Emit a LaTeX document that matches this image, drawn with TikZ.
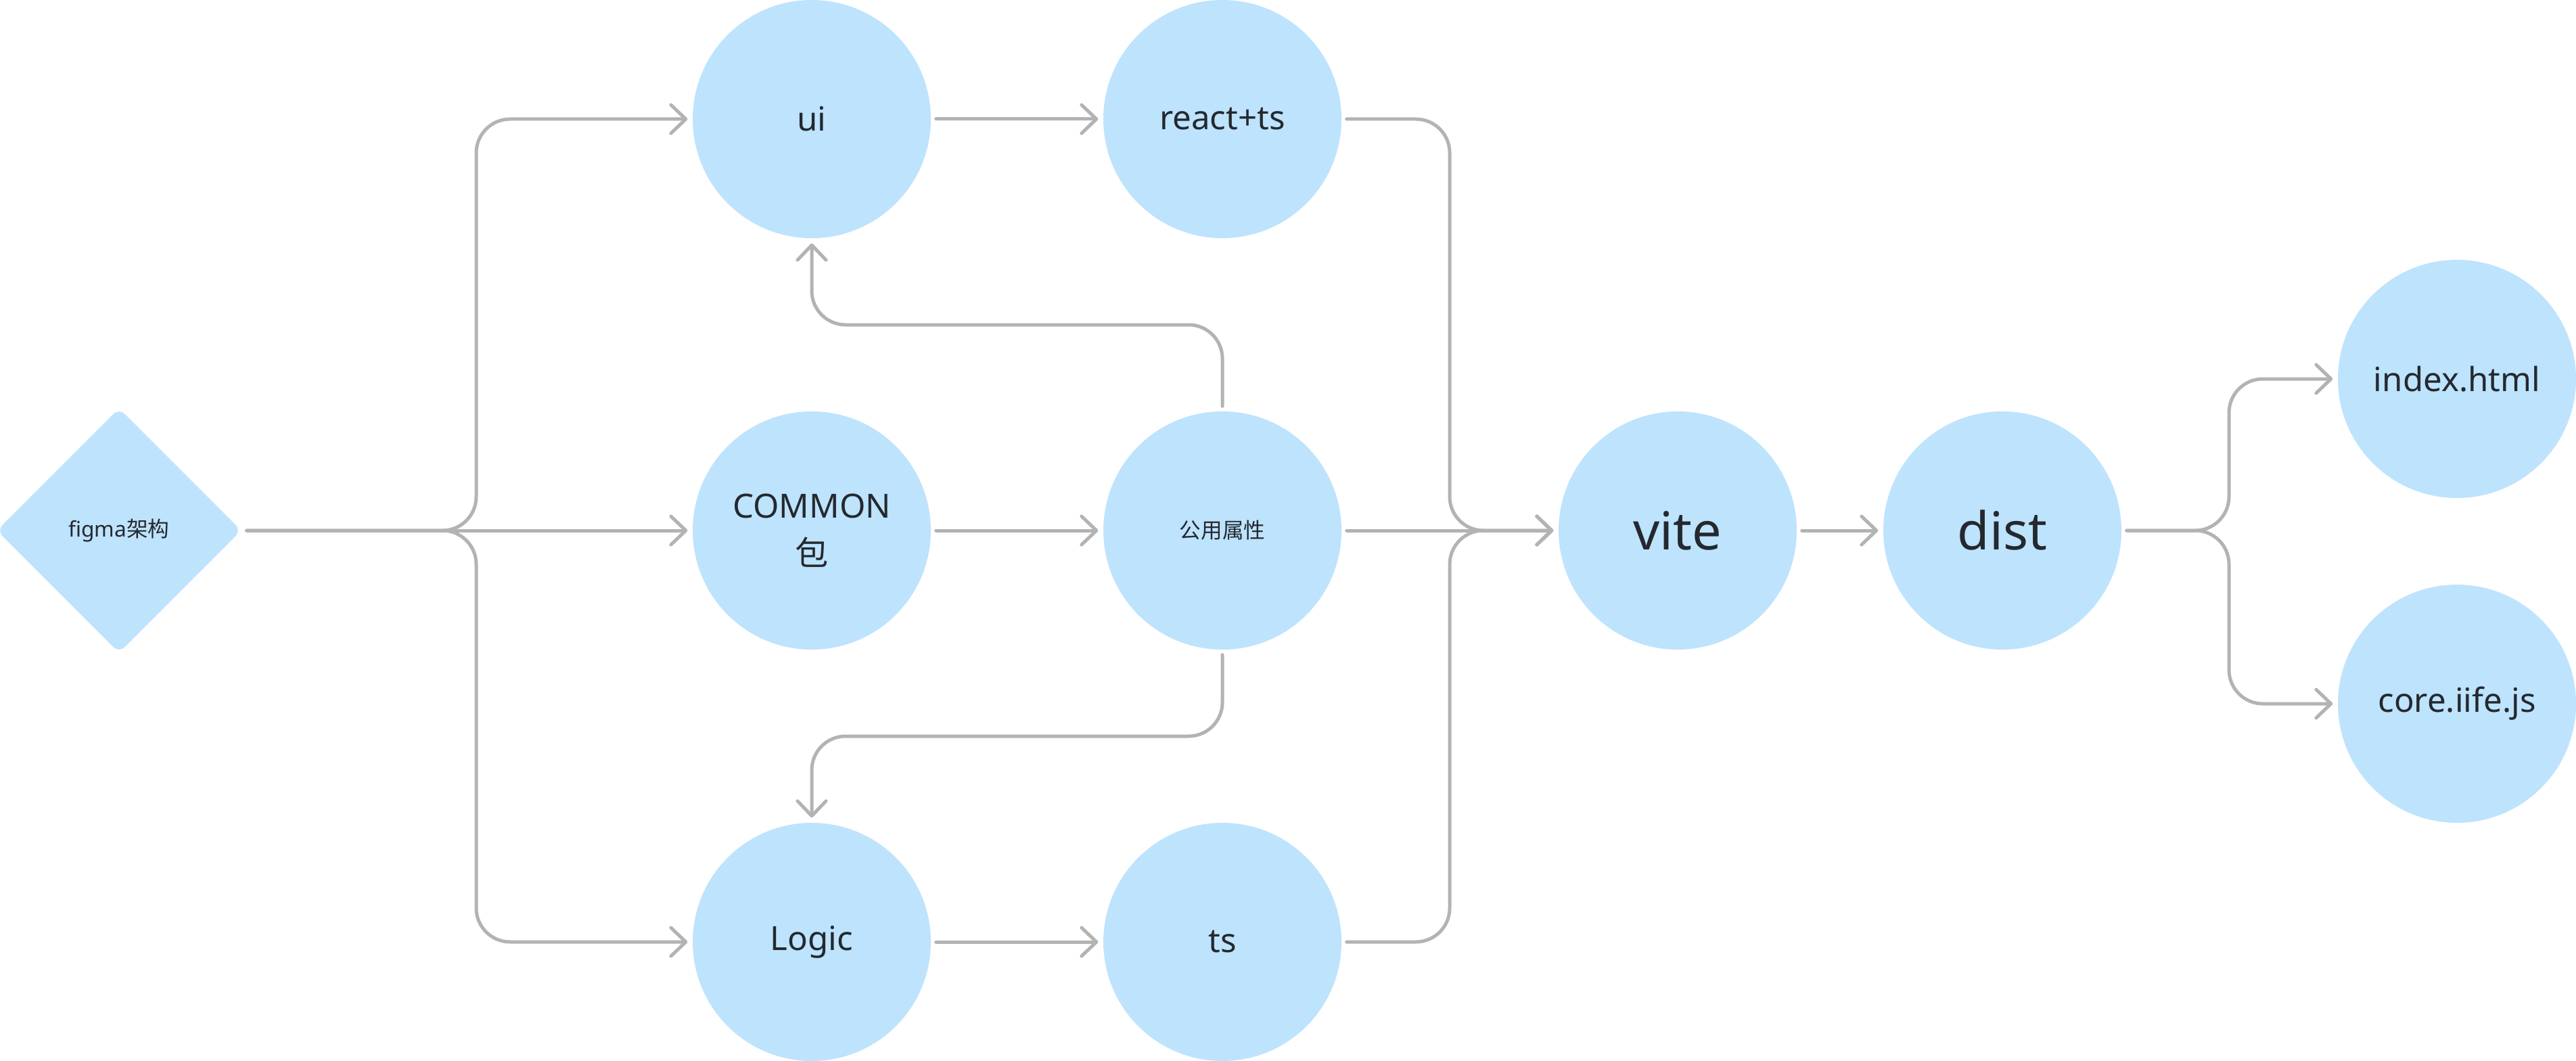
\documentclass[tikz,border=0pt]{standalone}
\usepackage{fontspec}
\setmainfont{Noto Sans}
\newfontfamily\cjk{Noto Sans CJK SC}
\usetikzlibrary{shapes.geometric,arrows.meta}
\definecolor{azzurro}{HTML}{BEE3FD}
\definecolor{grigio}{HTML}{B3B3B3}
\definecolor{testo}{HTML}{24292F}

\begin{document}
\begin{tikzpicture}
\tikzstyle{cerchio} = [circle, fill=azzurro, minimum size=3.52cm, inner sep=0, text=testo, align=center, font=\fontsize{14}{20}\selectfont]
\tikzstyle{rombo} = [diamond, aspect=1, fill=azzurro, minimum size=3.62cm, inner sep=0, rounded corners=0.12cm, text=testo, font=\fontsize{9}{11}\selectfont]
\tikzstyle{freccia} = [draw=grigio, line width=0.05cm, line cap=round, rounded corners=0.5cm, shorten <=0.07cm, shorten >=0.07cm, -{Straight Barb[length=0.22cm,width=0.42cm,round]}]

\useasboundingbox (0,0) rectangle (38.08,-15.68);

% Nodi
\node[rombo] (figma) at (1.76,-7.84) {figma{\cjk 架构}};

\foreach \nome/\x/\y/\testo in {
    ui/12.00/-1.76/ui, react/18.07/-1.76/react+ts,
    common/12.00/-7.84/{COMMON\\{\cjk 包}},
    pub/18.07/-7.84/{\fontsize{9}{11}\selectfont\cjk 公用属性},
    logic/12.00/-13.92/Logic, ts/18.07/-13.92/ts,
    index/36.32/-5.60/index.html, core/36.32/-10.40/core.iife.js} {
  \node[cerchio] (\nome) at (\x,\y) {\testo};
}

% vite e dist, testo grande
\foreach \nome/\x in {vite/24.80, dist/29.60} {
  \node[cerchio, font=\fontsize{22}{26}\selectfont] (\nome) at (\x,-7.84) {\nome};
}

% Punti di snodo
\coordinate (split) at (7.04,-7.84);
\coordinate (merge) at (21.43,-7.84);
\coordinate (fork) at (32.95,-7.84);
\coordinate (su) at (15.03,-4.80);
\coordinate (giu) at (15.03,-10.88);

% --- Frecce dirette ---------------------------------------------------
\foreach \a/\b in {figma/common, ui/react, common/pub, logic/ts, pub/vite, vite/dist} {
  \draw[freccia] (\a) -- (\b);
}

% rami da figma
\draw[freccia] (figma.east) -- (split) |- (ui);
\draw[freccia] (figma.east) -- (split) |- (logic);

% ritorni da公用属性
\draw[freccia] (pub) |- (su) -| (ui);
\draw[freccia] (pub) |- (giu) -| (logic);

% verso vite
\draw[freccia] (react) -| (merge) -- (vite);
\draw[freccia] (ts) -| (merge) -- (vite);

% uscite di dist
\draw[freccia] (dist) -- (fork) |- (index);
\draw[freccia] (dist) -- (fork) |- (core);

\end{tikzpicture}
\end{document}
